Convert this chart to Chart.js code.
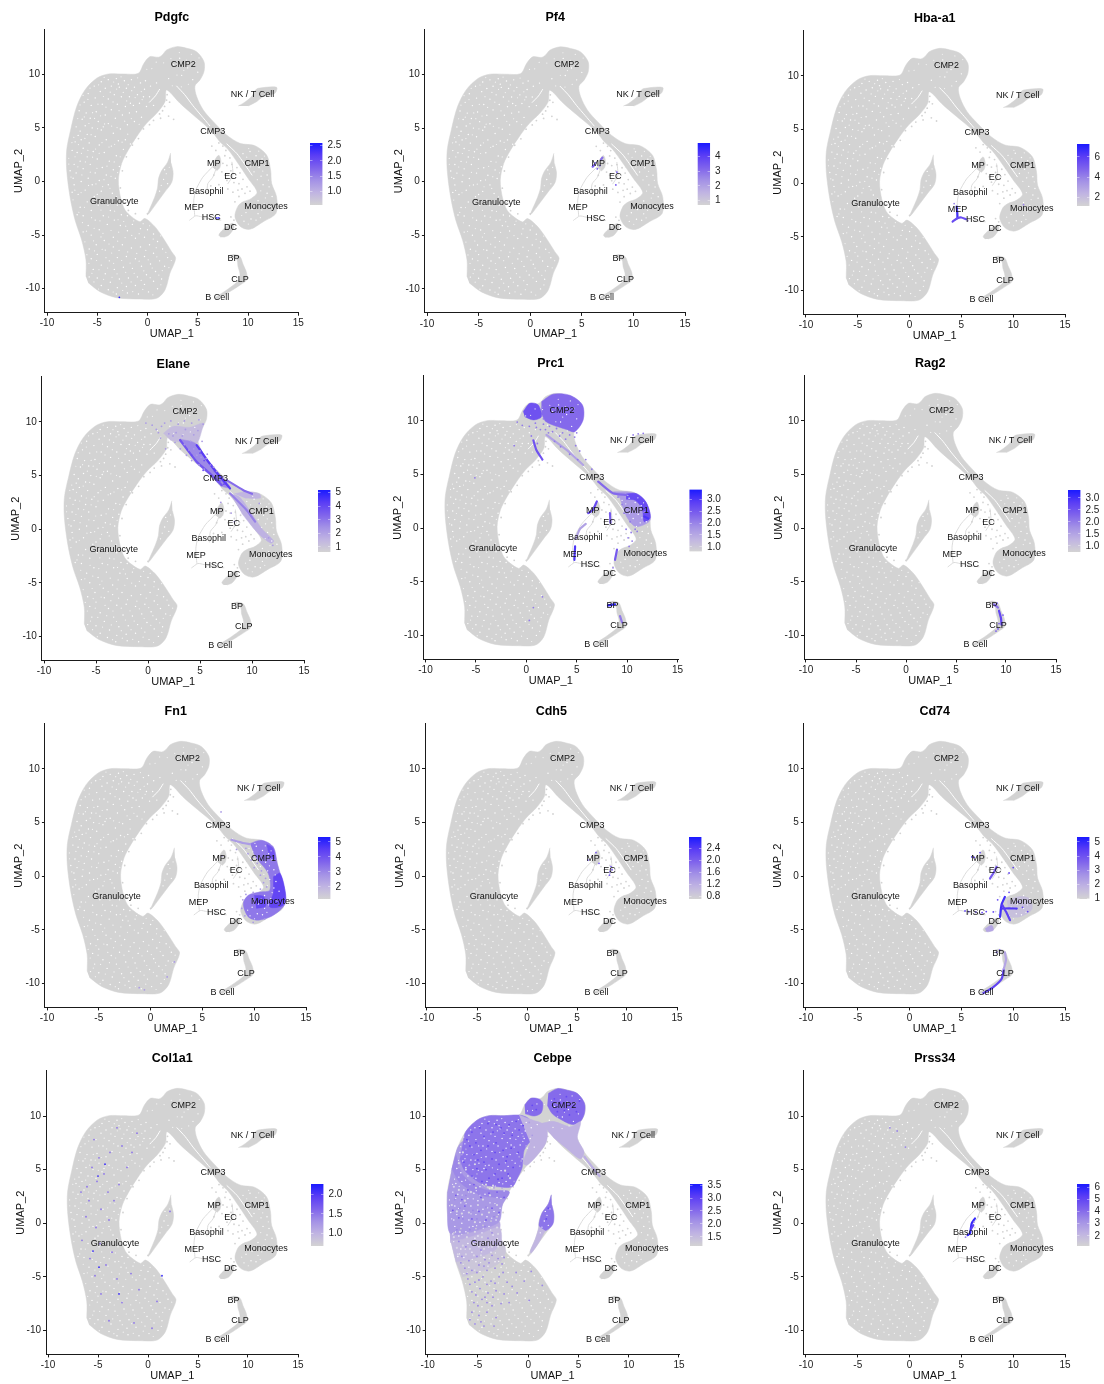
<!DOCTYPE html>
<html><head><meta charset="utf-8">
<style>html,body{margin:0;padding:0;background:#fff}canvas{position:absolute;display:block;filter:blur(.35px)}</style>
<script src="https://cdn.jsdelivr.net/npm/chart.js@4"></script></head><body>
<script>
const xTicks=[-10,-5,0,5,10,15];
const yTicks=[-10,-5,0,5,10];
const clusterNames=['CMP2','NK / T Cell','CMP3','MP','CMP1','EC','Basophil','Granulocyte','MEP','Monocytes','HSC','DC','BP','CLP','B Cell'];
const clusterX=[3.55,10.45,6.5,6.6,10.9,8.25,5.85,-3.3,4.62,11.8,6.35,8.25,8.55,9.2,6.95];
const clusterY=[10.95,8.15,4.7,1.65,1.65,0.5,-0.9,-1.9,-2.45,-2.35,-3.4,-4.25,-7.2,-9.1,-10.85];

// outlines of the grey cell cloud
const mainCloud=[[-6.12,-8.88],[-6.12,-7.33],[-6.55,-5.46],[-7.21,-3.59],[-7.71,-1.42],[-8.04,1.07],[-8.04,2.94],[-7.65,4.81],[-7.05,6.98],[-6.22,8.54],[-5.06,9.63],[-3.9,10.03],[-2.41,10.03],[-0.91,10.09],[-0.35,11.03],[0.25,11.65],[1.07,11.59],[1.47,11.8],[1.9,12.27],[2.9,12.58],[3.9,12.43],[4.89,12.1],[5.62,11.18],[5.62,10.25],[5.22,9.47],[4.72,8.91],[4.89,7.92],[5.55,6.67],[6.55,5.58],[7.87,4.34],[9.2,3.56],[10.69,3.34],[11.85,2.47],[12.25,1.07],[12.35,-0.17],[12.84,-1.42],[12.78,-2.97],[11.52,-3.75],[10.19,-4.46],[9.26,-4.21],[8.7,-3.28],[9.0,-2.3],[9.5,-1.9],[10.3,-1.6],[10.9,-1.0],[10.0,0.3],[9.0,1.7],[8.0,3.0],[7.2,3.7],[6.55,4.5],[5.72,5.27],[4.56,6.2],[3.23,7.3],[1.9,8.54],[1.74,7.45],[0.91,6.36],[-0.09,5.43],[-1.08,4.18],[-1.91,2.94],[-2.57,1.7],[-2.9,0.14],[-2.67,-1.57],[-2.24,-2.66],[-1.58,-3.28],[-0.75,-3.75],[-0.25,-3.44],[0.74,-4.21],[1.57,-5.3],[2.4,-6.55],[2.8,-7.17],[2.23,-8.57],[1.74,-10.12],[0.91,-10.9],[-0.75,-10.96],[-3.07,-10.84],[-4.73,-10.28],[-5.9,-9.44]];
const islandCloud=[[2.3,2.65],[2.0,1.8],[1.4,1.0],[1.1,0.3],[1.0,-0.6],[0.7,-1.5],[0.2,-2.6],[0.0,-3.1],[0.3,-2.8],[1.0,-1.9],[1.7,-1.0],[2.4,-0.1],[2.55,0.8],[2.35,1.7]];
const nkCloud=[[9.03,7.05],[9.53,7.3],[10.36,7.92],[10.69,8.47],[11.02,8.69],[12.84,8.79],[12.68,8.23],[11.52,7.92],[10.86,7.45],[10.03,7.05]];
const dcCloud=[[7.3,-5.2],[7.1,-5.0],[7.4,-4.6],[8.0,-4.1],[8.5,-3.9],[8.6,-4.3],[8.1,-5.0],[7.6,-5.2]];
const bpCloud=[[8.2,-6.9],[8.6,-6.8],[9.2,-7.0],[9.5,-7.7],[9.85,-8.5],[9.85,-9.2],[9.3,-9.6],[8.5,-10.1],[7.6,-10.6],[6.9,-10.95],[6.8,-10.8],[7.6,-10.3],[8.5,-9.7],[9.1,-9.2],[9.2,-8.6],[9.0,-7.9],[8.9,-7.3],[8.4,-7.1]];
const mpCloud=[[6.5,1.3],[6.7,2.0],[7.1,2.45],[7.3,1.9],[7.2,1.3],[6.9,1.0]];
const cloudOutlines=[mainCloud,islandCloud,nkCloud,dcCloud,bpCloud,mpCloud];
const faintTracks=[
 [[4.2,-3.6],[4.8,-3.2],[5.4,-3.3],[6.4,-3.5],[7.3,-3.6]],
 [[4.7,-3.2],[4.6,-1.8],[4.8,-0.8],[5.5,0.4],[6.5,1.4]],
 [[5.9,-1.2],[6.0,-0.2],[6.5,0.4],[6.9,1.4]],
 [[8.0,-0.2],[8.5,0.6],[8.4,1.8]]
];
const sparseCloud=[[7.5,3.3],[7.8,2.9],[8.1,3.2],[8.4,2.7],[7.7,2.4],[8.2,2.2],[8.7,2.4],[7.5,1.7],[7.9,1.5],[8.4,1.6],[8.9,1.3],[8.3,1.0],[8.8,0.6],[9.2,0.8],[9.5,0.2],[8.6,-0.1],[9.1,-0.2],[8.3,0.3],[7.7,0.6],[7.9,0.1],[7.4,0.9],[9.4,-0.7],[9.9,-0.5],[9.7,-1.1],[9.0,-0.8],[10.2,-0.9],[6.4,3.3],[6.8,2.9],[7.1,3.6],[9.3,1.4],[9.0,2.0],[8.0,-0.7],[8.5,-1.0],[6.6,0.6],[6.3,-0.4],[7.1,-0.3],[9.1,-1.4],[8.7,-1.9],[8.6,-3.6],[8.3,-3.3],[6.2,-3.2],[5.6,-3.5],[1.7,7.0],[1.5,6.6],[2.1,6.1],[2.6,5.8],[1.9,7.6],[1.2,6.3],[-0.9,-3.9],[0.0,-3.0],[-1.6,-3.7],[1.95,8.1],[2.2,7.4],[1.3,5.9],[0.6,5.7],[0.2,5.3],[-0.4,4.9],[-0.9,4.0],[-1.5,3.4],[-2.1,2.3],[-2.5,1.0],[-2.7,-0.6],[-2.3,-2.0],[-1.9,-2.7],[-1.2,-3.0],[7.75,3.75],[9.3,2.6],[9.7,2.1]];
const cloudGaps=[
 [[2.9,8.9],[3.7,8.1],[4.5,7.1],[5.3,6.2],[6.2,5.2]],
 [[1.2,8.6],[0.8,8.0],[0.2,7.4]],
 [[7.9,3.5],[8.9,2.6],[9.6,1.7],[10.4,0.6]]
];
const cloudSpecks=[[-6.8,6.6],[-6.3,7.4],[-5.9,8.2],[-5.3,8.9],[-4.6,9.3],[-3.9,9.5],[-3.1,9.6],[-2.3,9.4],[-1.6,9.5],[-6.5,5.8],[-6.1,6.4],[-5.6,7.1],[-5.2,7.8],[-4.7,8.4],[-4.2,8.7],[-3.6,8.9],[-2.8,8.8],[-2.1,8.7],[-1.3,8.8],[-0.7,9.2],[-7.1,5.1],[-6.7,4.7],[-6.2,5.2],[-5.7,5.9],[-5.1,6.5],[-4.5,7.2],[-3.9,7.7],[-3.3,8.1],[-2.6,7.9],[-1.8,7.9],[-1,8.1],[-0.3,8.6],[0.3,8.9],[0.9,9.2],[-0.4,7.9],[0.2,7.9],[-0.8,7.3],[-0.1,7.0],[0.6,7.1],[-1.4,7.1],[-2.2,7.0],[-3,7.2],[-3.6,6.7],[-4.2,6.2],[-4.9,5.6],[-5.5,5.0],[-6,4.4],[-6.6,3.9],[-7.2,3.7],[-7.5,2.9],[-7,2.7],[-6.4,3.1],[-5.8,3.6],[-5.2,4.2],[-4.6,4.8],[-3.9,5.4],[-3.2,5.9],[-2.5,6.2],[-1.8,6.4],[-1.1,6.5],[-0.6,6.0],[-1.3,5.6],[-2,5.3],[-2.7,4.9],[-3.4,4.5],[-4.1,3.9],[-4.8,3.4],[-5.4,2.8],[-6,2.3],[-6.7,1.9],[-7.3,1.6],[-7.7,1.0],[-7.1,0.8],[-6.4,1.2],[-5.7,1.6],[-5,2.1],[-4.3,2.7],[-3.6,3.3],[-2.9,3.8],[-2.2,3.9],[-1.7,3.5],[-2.4,3.0],[-3.1,2.4],[-3.8,1.9],[-4.5,1.3],[-5.2,0.8],[-5.9,0.3],[-6.6,0],[-7.3,-0.3],[-7.5,-1],[-6.9,-1.2],[-6.2,-0.8],[-5.5,-0.3],[-4.8,0.1],[-4.1,0.6],[-3.4,1.1],[-2.8,1.4],[-3.2,0.3],[-3.9,-0.3],[-4.6,-0.9],[-5.3,-1.4],[-6,-1.9],[-6.7,-2.4],[-7,-3.1],[-6.4,-3.2],[-5.6,-2.7],[-4.9,-2.2],[-4.2,-1.7],[-3.5,-1.1],[-3,-2.2],[-3.7,-2.7],[-4.4,-3.2],[-5.2,-3.6],[-5.9,-4.1],[-6.4,-4.7],[-5.6,-5],[-4.8,-4.5],[-4,-4],[-3.3,-3.6],[-2.6,-3.1],[-2,-3.2],[-2.7,-4.1],[-1.5,-4],[-0.7,-4.4],[-2,-4.6],[0,-4.5],[0.6,-4.9],[-0.3,-5.2],[-1.2,-5.3],[-3.4,-5.2],[-4.3,-5.5],[-5.1,-5.9],[-5.8,-6.3],[-5.6,-7.2],[-5,-6.8],[-4.2,-6.4],[-3.4,-6.1],[-2.5,-5.9],[-1.6,-6.2],[-0.7,-6.1],[0.2,-5.9],[1,-5.6],[1.5,-6.3],[0.6,-6.7],[-0.3,-7],[-1.2,-7.2],[-2.1,-7],[-3,-7.1],[-3.8,-7.4],[-4.6,-7.8],[-5.4,-8.2],[-5.8,-8.9],[-5,-9],[-4.2,-8.6],[-3.3,-8.2],[-2.4,-8],[-1.5,-8.1],[-0.6,-7.9],[0.3,-7.7],[1.2,-7.4],[2,-7.1],[1.7,-7.9],[0.8,-8.4],[-0.1,-8.7],[-1,-8.9],[-1.9,-9],[-2.8,-9.1],[-3.7,-9.4],[-4.6,-9.7],[-3.9,-10.1],[-3,-9.9],[-2.1,-9.8],[-1.2,-9.7],[-0.3,-9.6],[0.6,-9.3],[1.4,-9.1],[1,-10],[0.1,-10.3],[-0.9,-10.5],[-2,-10.4],[-3.1,-10.5],[-1.7,7.3],[-2.9,9.1],[-0.2,9.4],[-4.4,5.1],[-6.9,4.3],[-7.4,0.3],[-5,-1.2],[9.5,2.6],[10.2,2.8],[10.8,2.4],[11.4,2.1],[10.5,1.8],[11.1,1.3],[11.7,1.5],[10.6,0.9],[11.3,0.5],[11.9,0.6],[11.5,-0.3],[12.1,-0.5],[11.9,-1.1],[12.4,-1.4],[11,-1.8],[11.6,-2.1],[12.2,-2.3],[10.4,-2.6],[11,-3],[9.8,-2.9],[10.3,-3.5],[9.6,-3.7],[10.8,-3.6],[9.9,-2.2],[2.6,10.9],[3.2,11.5],[4,10.6],[4.7,11.2],[3.4,9.9],[2.1,9.6],[4.5,9.5],[5,10.2],[1.7,1.1],[1.6,0.2],[2,-0.2],[1.2,-0.9]];
const cloudSpecksFine=[[-7.33,4.12],[-6.94,5.87],[-6.41,8.03],[-5.72,8.71],[-4.87,9.02],[-4.31,9.71],[-3.37,9.28],[-2.63,9.76],[-1.92,9.03],[-0.98,9.67],[-6.71,7.14],[-5.93,7.66],[-5.47,6.42],[-4.93,7.21],[-4.38,7.93],[-3.71,8.33],[-3.07,8.62],[-2.41,8.31],[-1.57,8.47],[-0.62,8.39],[-6.29,6.02],[-5.83,5.41],[-5.27,5.88],[-4.67,6.13],[-4.13,6.93],[-3.43,7.42],[-2.83,6.61],[-2.07,7.52],[-1.23,7.83],[-0.53,7.64],[-7.52,3.63],[-6.87,3.44],[-6.23,4.02],[-5.61,4.37],[-4.97,4.93],[-4.27,5.37],[-3.57,5.17],[-3.03,5.03],[-2.27,5.63],[-1.61,5.87],[-0.83,5.33],[-7.84,2.17],[-7.21,2.31],[-6.57,2.63],[-5.93,2.91],[-5.17,3.03],[-4.53,3.63],[-3.83,3.21],[-3.27,3.47],[-2.53,3.67],[-1.97,4.41],[-7.61,0.41],[-6.93,1.37],[-6.18,1.83],[-5.47,2.27],[-4.81,2.63],[-4.03,1.43],[-3.31,1.83],[-2.71,2.31],[-7.83,1.63],[-7.23,-0.81],[-6.53,0.61],[-5.69,0.87],[-5.03,1.23],[-4.33,0.17],[-3.63,0.47],[-2.97,0.83],[-7.41,-1.71],[-6.61,-1.03],[-5.87,-0.37],[-5.13,-0.23],[-4.47,-0.47],[-3.73,-0.63],[-3.07,-1.41],[-6.83,-2.87],[-6.27,-2.41],[-5.43,-1.93],[-4.63,-2.67],[-3.93,-2.23],[-3.27,-2.77],[-6.47,-3.83],[-5.57,-3.37],[-4.73,-3.67],[-3.87,-3.31],[-2.93,-3.57],[-2.37,-3.73],[-6.07,-4.63],[-5.31,-4.37],[-4.43,-4.83],[-3.63,-4.57],[-2.87,-4.73],[-2.17,-4.17],[-1.37,-3.67],[-0.43,-3.93],[0.21,-4.13],[-6.23,-5.63],[-5.37,-5.53],[-4.63,-5.17],[-3.83,-5.83],[-2.97,-5.57],[-2.23,-5.23],[-1.57,-5.03],[-0.83,-4.87],[0.57,-5.37],[1.31,-5.07],[-6.03,-6.83],[-5.27,-6.47],[-4.51,-6.33],[-3.57,-6.67],[-2.83,-6.43],[-1.97,-6.57],[-1.07,-6.71],[-0.17,-6.43],[0.87,-6.17],[1.83,-6.61],[-5.83,-7.63],[-5.07,-7.37],[-4.13,-7.11],[-3.37,-7.63],[-2.57,-7.37],[-1.73,-7.61],[-0.83,-7.43],[0.07,-7.31],[0.93,-7.03],[2.37,-7.37],[-5.53,-8.57],[-4.83,-8.23],[-3.97,-8.07],[-3.03,-8.61],[-2.17,-8.47],[-1.33,-8.57],[-0.37,-8.33],[0.47,-8.07],[1.47,-8.31],[2.13,-8.03],[-5.33,-9.37],[-4.37,-9.13],[-3.53,-8.93],[-2.57,-9.47],[-1.63,-9.37],[-0.63,-9.23],[0.27,-8.97],[1.13,-8.73],[-4.87,-10.03],[-3.41,-10.31],[-2.47,-10.17],[-1.47,-10.27],[-0.47,-10.07],[0.53,-10.57],[1.33,-9.63],[3.17,12.03],[3.87,11.33],[4.37,11.87],[2.87,11.17],[2.33,11.47],[5.13,11.53],[3.61,10.37],[2.93,9.93],[1.61,11.07],[0.43,10.53],[0.87,11.13],[-0.07,10.47],[4.07,9.07],[3.37,8.83],[2.47,8.93],[10.07,3.07],[11.07,2.83],[11.63,2.37],[9.87,2.27],[10.23,1.37],[11.47,0.97],[10.93,0.17],[12.03,0.13],[11.27,-0.87],[11.73,-1.53],[10.67,-2.13],[12.43,-2.73],[11.37,-2.67],[10.03,-3.97],[11.23,-3.37],[9.37,-3.17],[1.87,0.73],[1.37,-0.37],[2.17,1.33]];

// expression per gene: value, then flat zones, short tracks or single cells
const pdgfcZones=[],pdgfcTracks=[];
const pdgfcCells=[[2.4,[[-2.8,-10.8],[6.9,-3.4],[7.1,-3.4]]]];
const pf4Zones=[],pf4Tracks=[[3.4,[[6.05,1.4],[6.2,1.55]]],[3.0,[[6.85,2.05],[7.0,2.25]]]];
const pf4Cells=[[3.6,[[6.3,1.75],[6.5,1.2],[6.75,1.5],[8.3,-0.3],[8.4,0.9]]]];
const hbaZones=[],hbaTracks=[[6.5,[[4.54,-2.18],[4.6,-2.8],[4.62,-3.27]]],[5.6,[[4.15,-3.58],[4.62,-3.27],[5.0,-3.2],[5.44,-3.36]]]];
const hbaCells=[[4.0,[[11.0,-2.0],[5.6,-3.5],[4.3,-1.9]]]];
const elaneZones=[[1.3,[[1.47,8.94],[2.44,9.6],[4.0,9.5],[5.32,9.9],[5.2,9.3],[4.68,8.0],[3.72,8.0],[2.12,8.32]]],[1.5,[[8.3,3.3],[9.5,3.5],[10.7,3.3],[10.8,2.9],[9.3,2.9]]],[1.6,[[7.9,3.3],[8.8,3.0],[10.0,1.4],[11.0,0.0],[12.1,-1.1],[11.8,-1.3],[10.5,-0.3],[9.0,1.5]]],[2.6,[[3.1,8.4],[4.6,8.0],[5.6,6.6],[7.0,5.0],[7.9,3.9],[7.1,4.0],[5.9,5.1],[4.6,6.2]]]];
const elaneTracks=[[4.3,[[4.68,7.85],[5.8,6.29],[6.92,4.89],[7.89,3.8]]],[3.7,[[3.08,8.32],[4.68,6.29],[5.96,5.2],[7.08,4.11]]],[3.2,[[7.56,4.58],[9.17,3.64],[10.0,3.3]]],[2.8,[[7.89,3.33],[9.49,1.77],[10.3,0.7]]]];
const elaneCells=[[2.2,[[1.0,9.0],[1.2,8.5],[1.7,7.5],[2.7,9.0],[3.3,8.7],[3.6,9.3],[4.4,8.8],[4.1,8.2],[4.8,9.2],[5.2,8.2],[5.0,7.3],[3.9,7.4],[3.5,7.9],[2.4,8.7],[2.0,8.9],[1.3,9.6],[0.8,9.3],[5.6,6.6],[4.7,6.9],[6.3,5.8],[8.0,1.5],[6.9,1.9],[7.0,2.5],[8.3,0.7],[11.6,-0.8],[12.0,-1.5],[10.7,2.4],[1.6,9.9],[2.2,10.1],[2.9,9.8],[3.5,10.1],[4.2,9.9],[4.9,10.2],[5.3,9.8],[0.4,9.7],[-0.2,9.9],[2.6,8.1],[3.1,7.5],[3.7,6.9],[4.2,6.4],[4.9,6.0],[5.4,5.6],[6.0,6.0],[6.6,5.4],[7.2,4.9],[4.4,7.5],[5.1,6.7],[5.7,7.0]]],[3.9,[[5.0,7.1],[5.4,6.4],[6.1,6.0],[6.4,5.4],[6.1,5.0],[5.3,5.5],[6.9,4.5],[7.3,4.2],[7.5,4.4],[4.2,6.9],[3.8,7.4]]]];
const prc1Zones=[[2.3,[[1.5,11.8],[2.66,12.5],[4.32,12.4],[5.57,11.5],[5.64,10.1],[4.8,9.0],[4,9.2],[2,9.9],[1.5,10.7]]],[2.6,[[-0.31,10.87],[0.35,11.65],[1.18,11.5],[1.5,10.4],[0.68,10.1],[-0.15,10.4]]],[1.7,[[8.62,3.4],[10.6,3.32],[11.8,2.5],[12.3,0.78],[10.9,0.15],[9.94,1.1],[9.3,2.8]]],[2.7,[[9.9,3.2],[11,3.2],[11.9,2.4],[12.3,1.0],[11.7,0.6],[11.5,1.8],[10.8,2.6],[9.9,2.7]]]];
const prc1Tracks=[[2.6,[[0.7,8.2],[1.0,7.3],[1.6,6.4]]],[1.6,[[2,8.7],[4,7.3],[5.64,5.9]]],[2.3,[[7.13,4.35],[8.6,3.26],[9.94,3.1]]],[2.7,[[6.14,1.4],[6.6,1.7],[7,2.5]]],[3.0,[[4.84,-1.7],[4.77,-2.95]]],[1.6,[[4.9,-1.0],[5.3,-0.1],[5.9,0.4]]],[2.5,[[8.3,1.4],[8.35,0.5]]],[2.5,[[9,-2],[8.8,-2.95]]],[3.2,[[8.1,-7.2],[8.8,-7.1]]],[2.1,[[9.3,-8.2],[9.5,-8.8]]],[3.0,[[11.7,1.1],[12.1,0.9]]]];
const prc1Cells=[[2.1,[[10.6,8.7],[11.1,8.8],[11.6,8.85],[9.9,-0.1],[10.4,-0.4],[11,-0.3],[10.1,-0.9],[10.5,-1.2],[-0.9,9.9],[-0.4,9.6],[0.3,9.5],[1,9.4],[1.9,9.2],[2.6,9],[3.3,8.6],[3.9,8.3],[4.8,8.5],[4.9,7.7],[2.8,8.1],[3.4,7.6],[4.3,6.9],[5.1,6.4],[-5.1,4.7],[-1.2,7.7],[1.6,-6.4],[0.7,-7.4],[0.3,-8.6],[8.6,-3.7],[10.2,-1.7],[1.1,7.9],[0.5,8.6],[1.7,9.7],[2.3,9.5],[3.0,9.3],[3.6,8.9],[4.3,8.7],[5.0,8.9],[1.6,11.3],[1.7,10.2],[0.9,9.8],[1.4,9.2],[2.2,8.9],[5.3,7.2],[5.9,6.4],[6.5,5.5],[10.3,0.6],[9.7,1.4],[10.8,-0.1],[9.5,2.2],[9.1,2.9]]]];
const rag2Zones=[],rag2Tracks=[[2.7,[[9.3,-7.7],[9.5,-8.4],[9.55,-9.0]]],[2.1,[[8.8,-7.1],[9.2,-7.4]]]];
const rag2Cells=[[2.4,[[8.9,-7.2],[9.1,-7.0],[9.2,-9.4],[9.0,-9.6],[9.7,-8.1],[9.3,-8.9]]]];
const fn1Zones=[[3.3,[[9.6,3.05],[10.7,3.36],[11.84,2.74],[12.23,1.18],[12.97,-1.31],[13,-2.56],[11.84,-3.65],[10.4,-4.1],[9.43,-3.8],[8.95,-2.56],[9.43,-1.78],[10.56,-1.47],[11.5,-1.3],[11.36,0.25],[10.23,1.65],[9.9,2.27]]],[4.3,[[11.84,-0.06],[12.5,0.25],[13,-1.6],[12.8,-2.7],[11.5,-2.87],[11.84,-1.62]]],[4.2,[[10.0,-1.8],[10.9,-1.9],[11.1,-2.8],[10.2,-3.0]]],[4.0,[[11.2,3.0],[11.8,2.6],[12.0,1.6],[11.6,1.7],[11.3,2.5]]]];
const fn1Tracks=[[2.6,[[7.8,3.4],[8.9,3.1],[9.6,3.0]]]];
const fn1Cells=[[2.6,[[9.2,2.6],[9.4,2.1],[9.7,1.5],[10.0,0.8],[10.6,0.1],[10.9,-0.6],[8.3,2.5],[6.9,1.9],[6.8,6.0],[2.3,-8],[-1.1,-10.4],[1.6,-9.4],[-0.6,-10.6],[9.9,1.8],[10.3,1.2],[10.7,0.5],[11.1,-0.2],[11.2,-1.0],[10.6,-1.2],[9.9,-1.5],[9.2,-1.7],[8.9,-2.2],[8.8,-3.0],[9.1,-3.7],[9.9,-4.3],[11,-4.0]]]];
const cdh5Zones=[],cdh5Tracks=[];
const cdh5Cells=[[2.0,[[8.3,0.4],[8.4,0.9],[8.25,0.1],[8.5,0.6],[6.1,1.5],[6.9,2.2],[7.2,1.2]]]];
const cd74Zones=[[2.2,[[7.28,-4.9],[7.92,-4.58],[8.08,-5.05],[7.44,-5.2]]],[1.5,[[9.4,-2.3],[10.6,-1.9],[11.6,-2.1],[11.8,-3.1],[10.6,-3.8],[9.6,-3.8]]]];
const cd74Tracks=[[4.8,[[9.2,-1.93],[8.89,-2.6],[8.73,-3.8]]],[4.6,[[8.89,-3.02],[9.6,-3.0],[10.34,-3.02]]],[4.4,[[8.95,-2.7],[9.3,-3.3],[9.69,-4.1]]],[3.8,[[7.76,-0.22],[8.1,0.3],[8.4,0.87]]],[4.3,[[7.12,-10.9],[8.08,-10.34],[8.89,-9.56],[9.1,-8.63]]],[2.2,[[9.1,-8.63],[9.3,-7.8],[9.2,-7.1]]]];
const cd74Cells=[[4.2,[[5.35,-3.24],[5.7,-3.3],[6.4,-3.35],[7.0,-3.4],[7.4,-3.3],[8.08,-3.33],[6.0,1.8],[6.25,1.75],[6.8,2.2],[10.5,-2.4],[10.9,-2.9],[9.6,0.3],[10.0,0.8],[9.6,-1.5],[8.5,-2.2],[11.4,-3.3],[8.4,-7.1],[8.7,-6.9]]]];
const col1a1Zones=[],col1a1Tracks=[];
const col1a1Cells=[[1.5,[[-5.6,5.2],[-4.9,6.1],[-3.8,6.6],[-2.6,7.2],[-1.6,6.6],[-5.1,3.9],[-4,2.9],[-2.9,3.6],[-5.9,2.1],[-4.7,1.3],[-3.4,2.1],[-6.2,0.6],[-5.2,-0.4],[-3.9,0.3],[-6.6,-1.6],[-4.8,-1.9],[-3.6,-2.7],[-5.8,-3.3],[-4.2,-3.9],[-5.3,-4.9],[-3.1,-5.2],[-1.7,-4.7],[-4.7,-6.6],[-2.6,-7.4],[-0.9,-6.2],[0.9,-7.3],[-3.9,-9.1],[-1.4,-9.3],[0.4,-9.8],[-6.7,2.9],[-5.4,7.8],[-3.1,8.9],[-1.1,8.4],[2.2,1.1],[-4.4,4.6],[-2.1,5.2],[-6.1,3.4]]],[2.1,[[-5.0,4.4],[-4.3,5.5],[-5.5,-2.6],[-4.9,-4.1],[-2.9,-6.6],[1.4,-4.9]]]];
const cebpeZones=[[1.35,[[-7.21,-3.59],[-5,-3.2],[-3.3,-2.5],[-2.67,-1.57],[-2.24,-2.66],[-3,-3.8],[-5,-4.6],[-6.55,-5.0]]],[1.75,[[-7.8,-0.9],[-6.5,-1],[-4.5,-0.5],[-2.9,0.14],[-2.9,-0.6],[-4.5,-1.2],[-6.5,-1.8],[-7.75,-1.8]]],[2.0,[[-7.65,4.81],[-7.05,6.98],[-6.5,7.6],[-6,5],[-4,3.2],[-1.9,2.94],[-2.57,1.7],[-2.9,0.14],[-4.5,-0.5],[-6.5,-1],[-7.8,-0.9],[-8.04,1.07],[-8.04,2.94]]],[1.55,[[-7.75,-1.6],[-6.5,-1.5],[-4.5,-0.9],[-2.9,-0.4],[-2.67,-1.57],[-3.3,-2.5],[-5,-3.2],[-7.2,-3.6]]],[2.2,[[-7.2,6.4],[-6.5,4.5],[-4.5,3.2],[-3,3],[-1.91,2.94],[-2.25,2.35],[-3.2,2.4],[-4.7,2.6],[-6.8,3.8],[-7.6,5.1]]],[2.4,[[-6.5,7.5],[-6.22,8.54],[-5.06,9.63],[-3.9,10.03],[-2.41,10.03],[-0.91,10.09],[0,9.8],[0.6,9],[0.3,7.8],[-0.4,6.8],[-0.6,5.2],[-1.08,4.18],[-1.6,3.4],[-3,3.4],[-4.5,3.6],[-6.3,4.9],[-6.8,6]]],[1.65,[[-0.91,10.09],[0.5,9.6],[1.4,9.3],[1.9,8.54],[1.74,7.45],[0.91,6.36],[-0.09,5.43],[-0.5,5.6],[0.2,7.5]]],[2.5,[[-0.35,11.03],[0.25,11.65],[1.07,11.59],[1.45,11.2],[1.3,10.3],[0.6,10.0],[-0.3,10.2]]],[2.5,[[2,12.1],[2.9,12.55],[3.9,12.4],[4.89,12.1],[5.6,11.18],[5.6,10.25],[5.2,9.5],[4.4,9.2],[3.2,9.7],[2.4,10.2],[1.9,11.0]]],[1.65,[[1.3,9.3],[2.5,9.5],[4.2,9.0],[5.2,9.45],[4.89,7.92],[5.55,6.67],[5.2,6.0],[3.8,7],[2.5,8]]],[2.4,[[2.3,2.65],[2.0,1.8],[1.4,1.0],[1.15,0.3],[1.1,-0.3],[1.7,-0.7],[2.45,-0.1],[2.55,0.8],[2.35,1.7]]],[1.6,[[1.1,-0.3],[0.7,-1.5],[0.2,-2.6],[0.3,-2.8],[1.0,-1.9],[1.7,-0.7]]]];
const cebpeTracks=[[1.7,[[5.6,6.2],[6.4,5.2],[7.1,4.4]]]];
const cebpeCells=[[1.95,[[-6.6,6.4],[-6.2,6.9],[-5.9,5.4],[-5.5,4.3],[-4.9,3.7],[-4.2,3.4],[-3.4,3.3],[-2.6,3.3],[-6.9,5.2],[-6.4,4.7],[-5.1,4.6],[-1.4,3.9],[-0.7,5.8],[-0.2,7.2],[0.4,8.2],[0.1,9.4],[-0.5,8.1],[-0.9,6.2]]],[1.3,[[-7.4,-0.9],[-6.7,-0.5],[-6,-0.9],[-5.2,-0.5],[-4.5,-0.2],[-3.7,0.2],[-3.1,0.6]]],[2.7,[[-7.2,2.6],[-6.6,2.2],[-6,3.1],[-5.4,3.6],[-4.7,2.4],[-3.9,2.8],[-3.1,2.9],[-2.4,2.4],[-7.5,1.2],[-6.9,0.5],[-6.3,1.6],[-5.6,0.4],[-4.9,1.1],[-4.2,0.3],[-3.6,1.4],[-2.9,1.0]]],[2.9,[[-6.1,7.8],[-5.6,8.5],[-4.8,8.9],[-4,9.3],[-3.2,9.2],[-2.4,8.4],[-1.6,8.2],[-0.9,8.7],[-5.4,6.4],[-4.7,6.8],[-4,7.2],[-3.2,7.5],[-2.5,6.8],[-1.7,7],[-1,6.6],[-5.1,5.1],[-4.4,5.7],[-3.6,6],[-2.9,5.5],[-2.2,5.8],[-1.5,5.2],[-3.3,4.6],[-2.6,4.2],[-3.9,4.2],[-4.6,3.9],[-5.6,4.4],[-6.4,5.7],[3.2,11.2],[3.8,11.8],[4.5,10.9],[2.9,10.4],[4.1,10.1],[0.4,11],[0.8,10.6],[2,1.4],[1.8,0.4],[-5.8,7.2],[-5.2,7.5],[-4.4,8.1],[-3.5,8.5],[-2.7,8.9],[-1.9,9.2],[-1.2,9.5],[-0.5,9.1],[-3.3,6.6],[-2.1,6.2],[-4.2,5.0],[-3.0,4.1],[-2.0,4.6],[-5.0,5.9],[2.6,11.6],[4.8,10.4],[3.6,10.5],[5.1,11.4],[2.4,11.0]]],[2.2,[[-7.3,2.2],[-6.8,1.4],[-6.2,2.6],[-5.5,1.2],[-4.9,2.7],[-4.2,1.5],[-3.4,0.6],[-7.1,-0.6],[-6.5,0.4],[-5.8,-0.6],[-5.1,0.4],[-4.3,-0.3],[-3.6,-0.9],[-6.9,-1.7],[-6.2,-2.2],[-5.4,-1.7],[-4.7,-2.5],[-4,-1.4],[-3.2,-1.9],[-6.6,-3.1],[-5.9,-3.5],[-5.1,-3.1],[-4.3,-3.4],[-3.6,-3],[-6.3,-4.2],[-5.6,-4.4],[-4.9,-3.9],[-4.1,-4.4],[-3.3,-4.2],[-2.6,-3.8],[-6,-5.2],[-5.3,-5.5],[-4.5,-5],[-3.7,-5.4],[-2.9,-5],[-2.1,-5.5],[-5.6,-6.4],[-4.8,-6.1],[-4,-6.5],[-3.2,-6.3],[-2.4,-6.6],[-1.6,-5.9],[-5.4,-7.4],[-4.6,-7.1],[-3.6,-7.7],[-2.7,-7.5],[-5.6,-8.3],[-4.9,-8.6],[-4.1,-8.3],[-3.2,-8.8],[-5.3,-9.4],[-4.4,-9.6],[-3.4,-9.6],[-1.9,-7.4],[-1.1,-6.5],[-0.4,-5.4],[0.1,-7.2],[1.4,-5.8],[0.3,-4.5],[-1.2,-4.6],[-6.7,-3.7],[-6.1,-4.7],[-5.1,-4.6],[-4.4,-4.0],[-3.9,-3.7],[-3.0,-3.3],[-2.4,-3.2],[-5.8,-5.7],[-4.9,-5.3],[-4.1,-5.7],[-3.3,-5.6],[-2.5,-4.6],[-5.2,-6.7],[-4.3,-6.9],[-3.5,-6.9],[-5.0,-7.7],[-4.1,-7.4],[-5.8,-9.0],[-4.7,-9.2]]]];
const cebpeGrain=[[-7.4,3.4],[-6.9,3.1],[-6.3,2.1],[-5.7,2.9],[-5,1.7],[-4.5,2.2],[-3.8,2.6],[-3.1,1.7],[-7.6,1.7],[-7.1,1.1],[-6.6,0.9],[-5.9,1.0],[-5.3,0.1],[-4.6,0.8],[-3.9,1.0],[-3.1,-0.4],[-7.4,-1.3],[-6.8,-0.8],[-6.1,-1.3],[-5.3,-0.8],[-4.6,-1.3],[-3.8,-2],[-3,-1],[-7.1,-2.3],[-6.5,-2.1],[-5.8,-2.4],[-5.1,-2],[-4.4,-2.4],[-3.6,-2.2],[-7.0,-2.9],[-6.2,-2.9],[-5.4,-3],[-4.7,-3],[-6.2,5.0],[-5.3,5.5],[-4.2,3.6],[-5.2,3.3],[-2.3,4.9],[-3.5,3.5],[-1.8,4.2],[-6.9,5.6],[-6.5,6.6]];

const genes=['Pdgfc','Pf4','Hba-a1','Elane','Prc1','Rag2','Fn1','Cdh5','Cd74','Col1a1','Cebpe','Prss34'];
const prss34Zones=[];
const prss34Tracks=[[5.8,[[6.31,0.44],[5.99,-0.03],[5.83,-0.96],[5.6,-1.12]]],[5.2,[[6.15,-0.19],[5.95,-0.5]]]];
const prss34Cells=[[3.5,[[-1.9,8.9],[-1.2,8.6],[-0.4,7.1],[5.4,-1.3],[6.2,0.1]]]];
const geneZones=[pdgfcZones,pf4Zones,hbaZones,elaneZones,prc1Zones,rag2Zones,fn1Zones,cdh5Zones,cd74Zones,col1a1Zones,cebpeZones,prss34Zones];
const geneTracks=[pdgfcTracks,pf4Tracks,hbaTracks,elaneTracks,prc1Tracks,rag2Tracks,fn1Tracks,cdh5Tracks,cd74Tracks,col1a1Tracks,cebpeTracks,prss34Tracks];
const geneCells=[pdgfcCells,pf4Cells,hbaCells,elaneCells,prc1Cells,rag2Cells,fn1Cells,cdh5Cells,cd74Cells,col1a1Cells,cebpeCells,prss34Cells];
const barMin=[0.57,0.7,1.1,0.63,0.8,0.75,1.2,0.7,0.95,0.68,1.15,1.17];
const barMax=[2.58,4.9,7.3,5.2,3.42,3.33,5.33,2.77,5.35,2.26,3.54,6.25];
const barTicks=[[1,1.5,2,2.5],[1,2,3,4],[2,4,6],[1,2,3,4,5],[1,1.5,2,2.5,3],[1,1.5,2,2.5,3],[2,3,4,5],[0.8,1.2,1.6,2,2.4],[1,2,3,4,5],[1,1.5,2],[1.5,2,2.5,3,3.5],[2,3,4,5,6]];
const barDigits=[1,0,0,0,1,1,0,1,0,1,1,0];

// layout in page pixels: [x of -10, px per x unit, y of +10, px per y unit, colour-bar left, colour-bar top]
const layout=[[47,10.05,74.3,10.72,310,143],[427,10.32,74.5,10.72,697.6,143],[806,10.36,76,10.72,1077,144],
[44,10.4,422,10.72,318,490],[425.5,10.08,421,10.72,689.4,489.5],[806,10,421,10.72,1068,490],
[47,10.36,769,10.72,318,837],[427,10,769,10.72,689,837],[806,10.36,769,10.72,1077,837],
[48,10,1116,10.72,311,1184],[427.7,10.05,1116,10.72,690,1184],[806,10.36,1116,10.72,1077,1184]];
const X0=-10.2,X1=15.05,Y0=-12.24,Y1=14.2,BW=12.5,BH=62;
const FONT='"Liberation Sans",Arial,sans-serif';
const stops=[[211,211,211],[192,180,226],[163,145,230],[127,99,236],[90,61,245],[26,26,255]];
function colorAt(t){t=Math.max(0,Math.min(1,t))*5;const i=Math.min(4,Math.floor(t)),f=t-i,a=stops[i],b=stops[i+1];
 return `rgb(${a.map((v,k)=>Math.round(v+(b[k]-v)*f)).join(',')})`;}
const grey='#d3d3d3';
const labelPlugin={id:'clusterLabels',afterDatasetsDraw(c){const g=c.ctx;g.save();g.font='9px '+FONT;g.fillStyle='#111';g.textAlign='center';g.textBaseline='middle';
 clusterNames.forEach((n,i)=>g.fillText(n,c.scales.x.getPixelForValue(clusterX[i]),c.scales.y.getPixelForValue(clusterY[i])));g.restore();}};
function addCanvas(l,t,w,h){const el=document.createElement('canvas');el.width=w;el.height=h;el.style.left=l+'px';el.style.top=t+'px';el.style.width=w+'px';el.style.height=h+'px';document.body.appendChild(el);return el;}
function poly(d,c){return {data:d,showLine:true,fill:'shape',backgroundColor:c,borderColor:c,borderWidth:0.5,pointRadius:0,tension:0.3};}
function track(d,c,w){return {data:d,showLine:true,fill:false,borderColor:c,borderWidth:w,pointRadius:0,tension:0.2,borderCapStyle:'round',borderJoinStyle:'round'};}
function dots(d,c,r){return {data:d,showLine:false,backgroundColor:c,borderWidth:0,pointRadius:r,pointHoverRadius:r};}
genes.forEach((name,i)=>{
 const [x10,sx,y10,sy,bl,bt]=layout[i];
 const L=x10+(X0+10)*sx,R=x10+(X1+10)*sx,T=y10-(Y1-10)*sy;
 const Bt=y10+(10-Y0)*sy;
 const cl=Math.floor(L-45),ct=Math.max(0,Math.floor(T-29));
 const w=Math.ceil(R)-cl+14,h=Math.ceil(Bt)-ct+32;
 const tone=v=>colorAt((v-barMin[i])/(barMax[i]-barMin[i]));
 const ds=[];
 cloudOutlines.forEach(o=>ds.push(poly(o,grey)));
 faintTracks.forEach(o=>ds.push(track(o,'#dcdcdc',1)));
 ds.push(dots(sparseCloud,grey,0.9));
 cloudGaps.forEach(o=>ds.push(track(o,'#ffffff',1)));
 geneZones[i].forEach(([v,p])=>ds.push(poly(p,tone(v))));
 ds.push(dots(cloudSpecks,'#ffffff',0.7));
 ds.push(dots(cloudSpecksFine,'#f6f6f6',0.6));
 geneTracks[i].forEach(([v,p])=>ds.push(track(p,tone(v),2.2)));
 if(name==='Cebpe')ds.push(dots(cebpeGrain,'#d9d6e6',1.1));
 geneCells[i].forEach(([v,p])=>ds.push(dots(p,tone(v),0.9)));
 ds.reverse();
 new Chart(addCanvas(cl,ct,w,h),{type:'scatter',data:{datasets:ds},plugins:[labelPlugin],options:{
  responsive:false,animation:false,events:[],
  layout:{padding:{top:T-ct-29+9.5,right:w-(R-cl),left:0,bottom:h-(Bt-ct)-32}},
  plugins:{legend:{display:false},tooltip:{enabled:false},
   title:{display:true,text:name,fullSize:false,color:'#000',font:{family:FONT,size:12.5,weight:'bold',lineHeight:15/12.5},padding:{top:0,bottom:4.5}}},
  scales:{
   x:{type:'linear',min:X0,max:X1,afterBuildTicks(s){s.ticks=xTicks.map(v=>({value:v}));},
    afterFit(s){s.height=32;s.paddingLeft=0;s.paddingRight=0;},
    border:{display:true,color:'#1a1a1a',width:1},grid:{display:true,drawOnChartArea:false,drawTicks:true,tickLength:3,color:'#1a1a1a'},
    ticks:{color:'#222',font:{family:FONT,size:10},padding:2,maxRotation:0,autoSkip:false},
    title:{display:true,text:'UMAP_1',color:'#111',font:{family:FONT,size:11},padding:{top:0,bottom:4.2}}},
   y:{type:'linear',min:Y0,max:Y1,afterBuildTicks(s){s.ticks=yTicks.map(v=>({value:v}));},
    afterFit(s){s.width=L-cl;s.paddingTop=0;s.paddingBottom=0;},
    border:{display:true,color:'#1a1a1a',width:1},grid:{display:true,drawOnChartArea:false,drawTicks:true,tickLength:3,color:'#1a1a1a'},
    ticks:{color:'#222',font:{family:FONT,size:10},padding:2,autoSkip:false},
    title:{display:true,text:'UMAP_2',color:'#111',font:{family:FONT,size:11},padding:{top:13,bottom:0}}}
  }}});
 // colour bar, a one-bar chart on its own value axis
 const pad=7,lc=Math.floor(bl),tc=Math.floor(bt)-pad,lw=Math.ceil(BW)+30,lh=BH+pad*2+2;
 new Chart(addCanvas(lc,tc,lw,lh),{type:'bar',data:{labels:[''],datasets:[{data:[[barMin[i],barMax[i]]],barPercentage:1,categoryPercentage:1,borderWidth:0,
   backgroundColor(ctx){const a=ctx.chart.chartArea;if(!a)return grey;const g=ctx.chart.ctx.createLinearGradient(0,a.bottom,0,a.top);stops.forEach((s,k)=>g.addColorStop(k/5,`rgb(${s.join(',')})`));return g;}}]},
  options:{responsive:false,animation:false,events:[],
   layout:{padding:{left:bl-lc,top:bt-tc,bottom:lh-(bt-tc)-BH,right:0}},
   plugins:{legend:{display:false},tooltip:{enabled:false}},
   scales:{x:{display:false,offset:true,grid:{display:false}},
    y:{position:'right',min:barMin[i],max:barMax[i],afterBuildTicks(s){s.ticks=barTicks[i].map(v=>({value:v}));},
     afterFit(s){s.width=lw-(bl-lc)-BW;s.paddingTop=0;s.paddingBottom=0;},
     border:{display:false,dash:[2.5,7.5,2.5,0]},grid:{display:true,z:1,drawTicks:false,color:'rgba(255,255,255,.6)',lineWidth:0.7},
     ticks:{color:'#222',font:{family:FONT,size:10},padding:5,autoSkip:false,callback:v=>v.toFixed(barDigits[i])}}}}});
});
</script></body></html>
